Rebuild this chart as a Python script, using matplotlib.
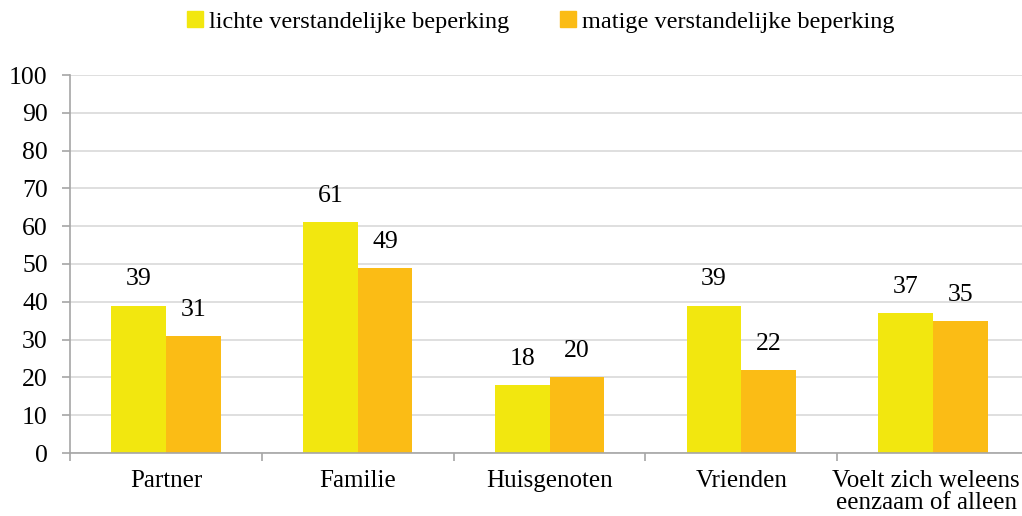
import numpy as np
import matplotlib.pyplot as plt
from matplotlib.patches import Patch
from matplotlib.transforms import ScaledTranslation

plt.rcParams['font.family'] = ['Liberation Serif', 'DejaVu Serif']

categories = ['Partner', 'Familie', 'Huisgenoten', 'Vrienden', 'Voelt zich weleens\neenzaam of alleen']
licht = [39, 61, 18, 39, 37]
matig = [31, 49, 20, 22, 35]
series_names = ['lichte verstandelijke beperking', 'matige verstandelijke beperking']

c_licht = '#f2e70f'
c_matig = '#fbbc15'

fig = plt.figure(figsize=(10.22, 5.16), dpi=100)
ax = fig.add_axes([70 / 1022, 1 - 453 / 516, 959 / 1022, 378 / 516])

index = np.arange(len(categories))
w = 0.285
ax.bar(index - w / 2, licht, w, color=c_licht, zorder=2)
ax.bar(index + w / 2, matig, w, color=c_matig, zorder=2)

for i in index:
    ax.text(i - w / 2, licht[i] + 4.0, str(licht[i]), ha='center', va='bottom', fontsize=18.5)
    ax.text(i + w / 2, matig[i] + 4.0, str(matig[i]), ha='center', va='bottom', fontsize=18.5)

ax.set_xlim(-0.5, len(categories) - 0.5)
ax.set_ylim(0, 100)
ax.set_yticks(range(0, 101, 10))
ax.yaxis.grid(True, color='#d9d9d9', linewidth=1.2, zorder=0)
ax.set_axisbelow(True)

ax.set_xticks(index)
ax.set_xticklabels(categories, fontsize=18, linespacing=1.0)
ax.set_xticks(np.arange(-0.5, len(categories), 1), minor=True)
ax.tick_params(axis='x', which='major', length=0, pad=12)
ax.tick_params(axis='x', which='minor', length=6, color='#a6a6a6', width=1.2)
ax.tick_params(axis='y', length=6, color='#a6a6a6', width=1.2, labelsize=18.5, pad=10)

# last label sits a little left of its group, like in the original
lbl = ax.get_xticklabels()[-1]
lbl.set_transform(lbl.get_transform() + ScaledTranslation(-7 / 100, 0, fig.dpi_scale_trans))

for s in ['top', 'right']:
    ax.spines[s].set_visible(False)
for s in ['left', 'bottom']:
    ax.spines[s].set_color('#a6a6a6')
    ax.spines[s].set_linewidth(1.2)

handles = [Patch(color=c_licht), Patch(color=c_matig)]
fig.legend(handles, series_names, loc='center', bbox_to_anchor=(541 / 1022, 1 - 22 / 516),
           ncol=2, frameon=False, fontsize=17.5, handlelength=0.65, handleheight=0.65,
           handletextpad=0.25, columnspacing=2.1)

fig.savefig('out.png', dpi=100)
